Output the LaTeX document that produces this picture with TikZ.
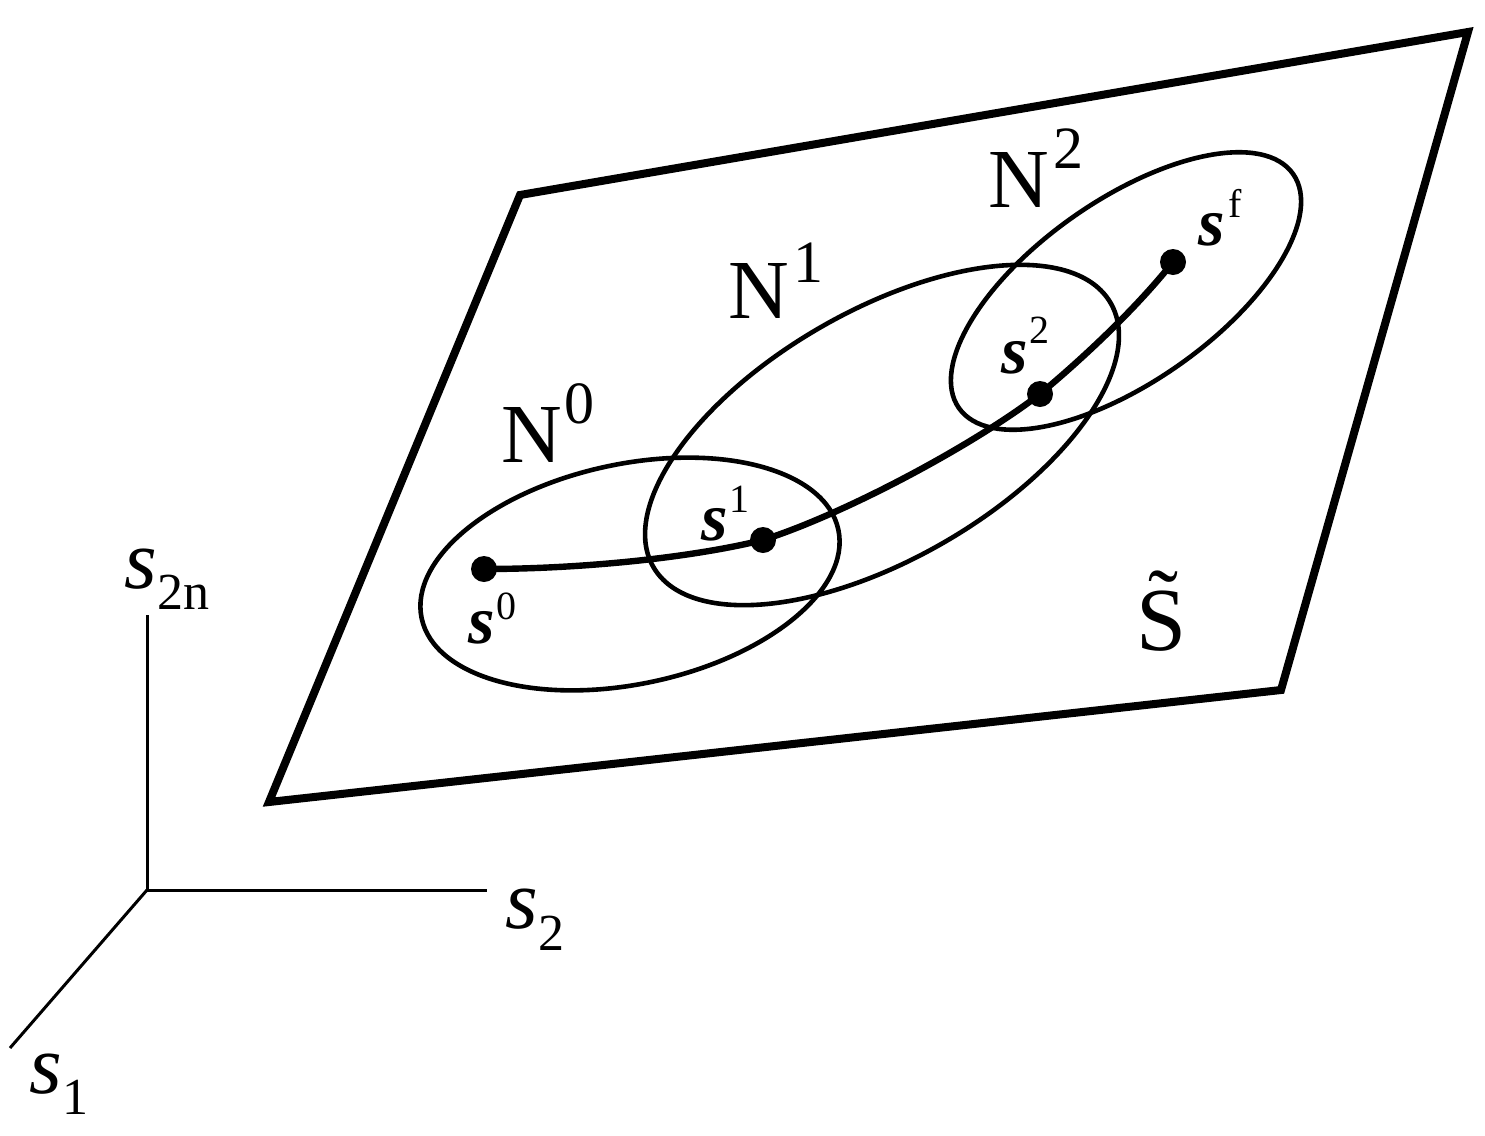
\documentclass[tikz,border=0pt]{standalone}
\usepackage{fontspec}
\setmainfont{Liberation Serif}
\begin{document}
\begin{tikzpicture}[x=0.5pt,y=-0.5pt,
  plane/.style={line width=4pt, line join=miter},
  hood/.style={line width=2.3pt},
  traj/.style={line width=3.2pt},
  axisline/.style={line width=1.5pt},
  pt/.style={circle, fill=black, inner sep=0pt, minimum size=13pt},
  nlab/.style={anchor=base west, inner sep=0pt, font=\fontsize{42}{42}\selectfont},
  slab/.style={anchor=base west, inner sep=0pt, font=\fontsize{34}{34}\selectfont},
  alab/.style={anchor=base west, inner sep=0pt, font=\fontsize{42}{42}\selectfont}]
\useasboundingbox (0,0) rectangle (1485,1136);

% plane
\draw[plane] (520,195) -- (1468,32) -- (1281,690) -- (269,802) -- cycle;

% neighbourhoods
\draw[hood, shift={(630,574)}, rotate=12] (0,0) ellipse [x radius=213, y radius=110];
\draw[hood, shift={(882,435)}, rotate=30] (0,0) ellipse [x radius=264, y radius=124];
\draw[hood, shift={(1126,291)}, rotate=35] (0,0) ellipse [x radius=204, y radius=91];

% points
\node[pt] (s0) at (484,569) {};
\node[pt] (s1) at (763,540) {};
\node[pt] (s2) at (1040,394) {};
\node[pt] (sf) at (1173,262) {};

% trajectory
\draw[traj] (s0.center) .. controls (580,569) and (690,558) .. (s1.center)
  .. controls (850,512) and (978,442) .. (s2.center)
  .. controls (1088,354) and (1138,306) .. (sf.center);

% labels
\node[nlab] (ln0) at (501,462) {N\kern1pt\raisebox{19.5pt}{\fontsize{30}{30}\selectfont 0}};
\node[nlab] (ln1) at (728,318) {N\kern2pt\raisebox{18pt}{\fontsize{30}{30}\selectfont 1}};
\node[nlab] (ln2) at (988,207) {N\kern2pt\raisebox{19.5pt}{\fontsize{30}{30}\selectfont 2}};

\node[slab] (ls0) at (468,643) {\textbf{\textit{s}}\kern1pt\raisebox{12pt}{\fontsize{20}{20}\selectfont 0}};
\node[slab] (ls1) at (701,540) {\textbf{\textit{s}}\kern1pt\raisebox{14pt}{\fontsize{20}{20}\selectfont 1}};
\node[slab] (ls2) at (1001,373) {\textbf{\textit{s}}\kern1pt\raisebox{15pt}{\fontsize{20}{20}\selectfont 2}};
\node[slab] (lsf) at (1198,245) {\textbf{\textit{s}}\kern2pt\raisebox{14pt}{\fontsize{20}{20}\selectfont f}};

\node[anchor=base west, inner sep=0pt, font=\fontsize{45}{45}\selectfont] (lS) at (1136,650) {\~{S}};

% axes
\coordinate (O) at (147,890);
\coordinate (Az) at (147,615);
\coordinate (Ay) at (487,890);
\coordinate (Ax) at (10,1048);
\draw[axisline] (Az) -- (O) -- (Ay);
\draw[axisline] (O) -- (Ax);

\node[alab] (a2n) at (124,588) {\textit{s}\raisebox{-10.5pt}{\fontsize{26}{26}\selectfont 2n}};
\node[alab] (a2) at (505,928) {\textit{s}\raisebox{-11pt}{\fontsize{26}{26}\selectfont 2}};
\node[alab] (a1) at (29,1093) {\textit{s}\raisebox{-10.5pt}{\fontsize{26}{26}\selectfont 1}};
\end{tikzpicture}
\end{document}
